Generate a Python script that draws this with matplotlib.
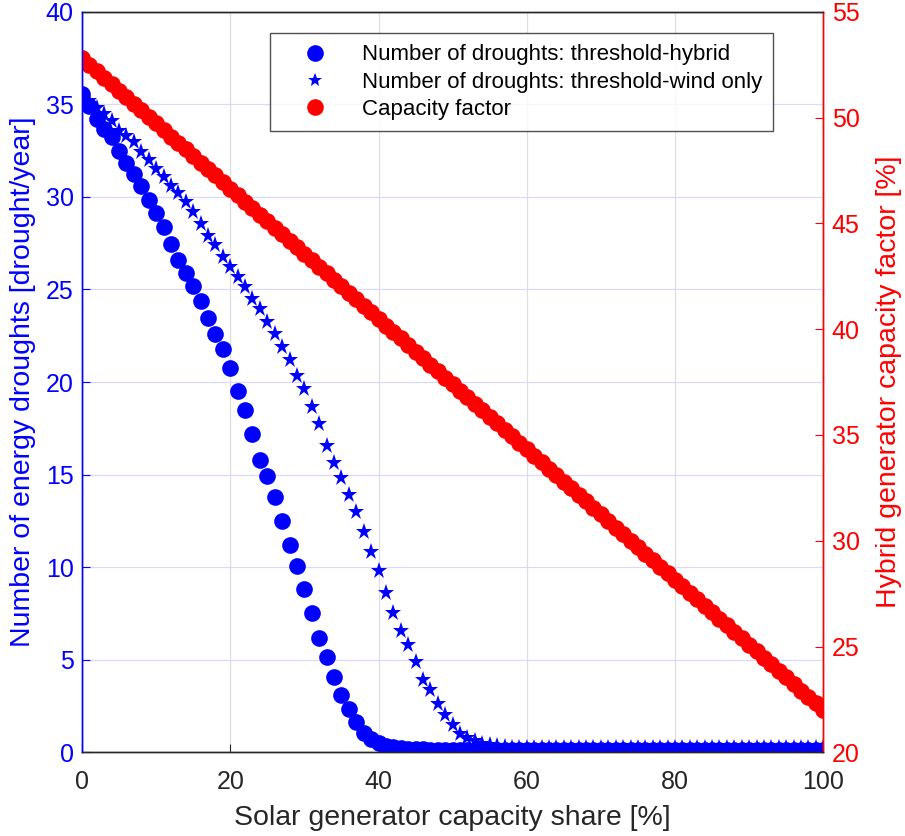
import numpy as np
import matplotlib
matplotlib.use("Agg")
import matplotlib.pyplot as plt

plt.rcParams['font.family'] = ['Liberation Sans', 'DejaVu Sans']

# solar share [%]
solar_share = list(range(0, 101))

# number of droughts, threshold-hybrid
droughts_hybrid = [
    35.53, 34.93, 34.20, 33.67, 33.22, 32.50, 31.82, 31.25, 30.60, 29.84,
    29.12, 28.37, 27.47, 26.57, 25.88, 25.16, 24.40, 23.47, 22.57, 21.80,
    20.75, 19.50, 18.50, 17.20, 15.80, 14.90, 13.80, 12.50, 11.20, 10.07,
    8.83, 7.50, 6.15, 5.13, 4.08, 3.09, 2.32, 1.65, 1.02, 0.70,
    0.50, 0.36, 0.28, 0.22, 0.19, 0.17, 0.16, 0.15, 0.14, 0.14,
    0.13, 0.13, 0.13, 0.12, 0.12, 0.12, 0.12, 0.11, 0.11, 0.11,
    0.11, 0.11, 0.11, 0.11, 0.11, 0.11, 0.11, 0.11, 0.11, 0.11,
    0.10, 0.10, 0.10, 0.10, 0.10, 0.10, 0.10, 0.10, 0.10, 0.10,
    0.10, 0.10, 0.10, 0.10, 0.10, 0.10, 0.10, 0.10, 0.10, 0.10,
    0.10, 0.10, 0.10, 0.10, 0.10, 0.10, 0.10, 0.10, 0.10, 0.10,
    0.10,
]

# number of droughts, threshold-wind only
droughts_wind = [
    35.50, 35.20, 34.80, 34.49, 34.09, 33.58, 33.31, 32.95, 32.41, 32.00,
    31.50, 31.06, 30.60, 30.20, 29.70, 29.17, 28.55, 27.90, 27.38, 26.75,
    26.20, 25.67, 25.13, 24.50, 23.96, 23.25, 22.60, 21.90, 21.20, 20.30,
    19.60, 18.65, 17.75, 16.55, 15.60, 14.84, 13.90, 13.00, 11.90, 10.80,
    9.80, 8.58, 7.53, 6.56, 5.79, 4.89, 3.90, 3.36, 2.60, 2.00,
    1.50, 1.00, 0.75, 0.60, 0.45, 0.38, 0.32, 0.28, 0.26, 0.25,
    0.25, 0.25, 0.25, 0.25, 0.25, 0.25, 0.25, 0.25, 0.25, 0.25,
    0.25, 0.25, 0.25, 0.25, 0.25, 0.25, 0.25, 0.25, 0.25, 0.25,
    0.25, 0.25, 0.25, 0.25, 0.25, 0.25, 0.25, 0.25, 0.25, 0.25,
    0.25, 0.25, 0.25, 0.25, 0.25, 0.25, 0.25, 0.25, 0.25, 0.25,
    0.25,
]

# hybrid capacity factor [%]
capacity_factor = [
    52.80, 52.49, 52.18, 51.88, 51.57, 51.26, 50.95, 50.64, 50.34, 50.03,
    49.72, 49.41, 49.10, 48.80, 48.49, 48.18, 47.87, 47.56, 47.26, 46.95,
    46.64, 46.33, 46.02, 45.72, 45.41, 45.10, 44.79, 44.48, 44.18, 43.87,
    43.56, 43.25, 42.94, 42.64, 42.33, 42.02, 41.71, 41.40, 41.10, 40.79,
    40.48, 40.17, 39.86, 39.56, 39.25, 38.94, 38.63, 38.32, 38.02, 37.71,
    37.40, 37.09, 36.78, 36.48, 36.17, 35.86, 35.55, 35.24, 34.94, 34.63,
    34.32, 34.01, 33.70, 33.40, 33.09, 32.78, 32.47, 32.16, 31.86, 31.55,
    31.24, 30.93, 30.62, 30.32, 30.01, 29.70, 29.39, 29.08, 28.78, 28.47,
    28.16, 27.85, 27.54, 27.24, 26.93, 26.62, 26.31, 26.00, 25.70, 25.39,
    25.08, 24.77, 24.46, 24.16, 23.85, 23.54, 23.23, 22.92, 22.62, 22.31,
    22.00,
]

left_ticks = [0, 5, 10, 15, 20, 25, 30, 35, 40]
right_ticks = [20, 25, 30, 35, 40, 45, 50, 55]
x_ticks = [0, 20, 40, 60, 80, 100]

blue = (0, 0, 1)
red = (1, 0, 0)
dark = (0.15, 0.15, 0.15)

fig = plt.figure(figsize=(9.05, 8.36), dpi=100)
ax = fig.add_axes([0.0906, 0.1001, 0.8191, 0.8859])
ax2 = ax.twinx()

h1, = ax.plot(solar_share, droughts_hybrid, 'o', color=blue, markersize=12,
              markeredgewidth=0, label='Number of droughts: threshold-hybrid')
h2, = ax.plot(solar_share, droughts_wind, '*', color=blue, markersize=12.5,
              markeredgewidth=0, label='Number of droughts: threshold-wind only')
h3, = ax2.plot(solar_share, capacity_factor, 'o', color=red, markersize=12,
               markeredgewidth=0, label='Capacity factor')

ax.set_xlim(0, 100)
ax.set_ylim(0, 40)
ax2.set_ylim(20, 55)
ax.set_xticks(x_ticks)
ax.set_yticks(left_ticks)
ax2.set_yticks(right_ticks)

ax.grid(False)
ax.xaxis.grid(True, color=(0.87, 0.87, 0.87), linewidth=0.9)
ax.yaxis.grid(True, color=(0.85, 0.85, 1.0), linewidth=0.9)
ax.set_axisbelow(True)

ax.tick_params(axis='x', direction='in', length=6, labelsize=18, colors=dark, pad=13)
ax.tick_params(axis='y', direction='in', length=6, labelsize=18, colors=blue, pad=6)
ax2.tick_params(axis='y', direction='in', length=6, labelsize=18, colors=red, pad=6)

for a in (ax, ax2):
    a.spines['left'].set_color(blue)
    a.spines['right'].set_color(red)
    a.spines['top'].set_color(dark)
    a.spines['bottom'].set_color(dark)
    for s in a.spines.values():
        s.set_linewidth(1.0)

ax.set_xlabel('Solar generator capacity share [%]', fontsize=20.5, color=dark, labelpad=8)
ax.set_ylabel('Number of energy droughts [drought/year]', fontsize=20.5, color=blue, labelpad=7)
ax2.set_ylabel('Hybrid generator capacity factor [%]', fontsize=20.5, color=red,
               rotation=90, labelpad=12)

leg = ax2.legend(handles=[h1, h2, h3], loc='upper right',
                 bbox_to_anchor=(0.932, 0.971), borderaxespad=0,
                 fontsize=16, frameon=True, fancybox=False,
                 edgecolor=dark, handlelength=3.0, handletextpad=0.6,
                 borderpad=0.5, labelspacing=0.28)
leg.get_frame().set_linewidth(1.0)
leg.legend_handles[0].set_markersize(12)
leg.legend_handles[1].set_markersize(10)
leg.legend_handles[2].set_markersize(12)

fig.savefig('out.png', dpi=100)
